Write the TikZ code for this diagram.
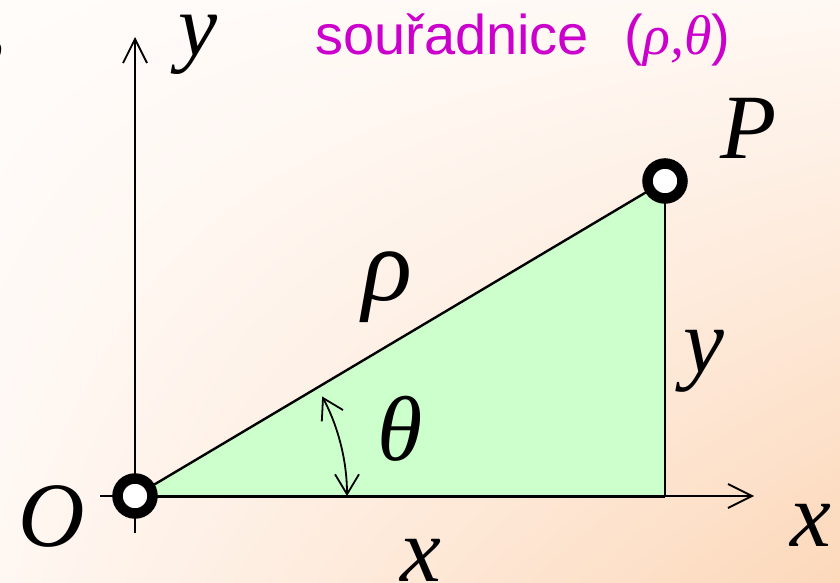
\documentclass[tikz,border=0pt]{standalone}
\usepackage{fontspec}
\setmainfont{Liberation Serif}
\newfontfamily\titlefont{Liberation Sans}
\newfontfamily\greekfont{Liberation Serif}
\usetikzlibrary{arrows.meta,shadings}
\definecolor{bgA}{HTML}{FFFCFA}
\definecolor{bgB}{HTML}{FFF8F3}
\definecolor{bgC}{HTML}{FFF7F2}
\definecolor{bgD}{HTML}{FCD8BA}
\definecolor{trifill}{HTML}{CCFFCC}
\definecolor{titlecol}{HTML}{CC00CC}
\tikzset{
  axis/.style={line width=1.8pt, -{Straight Barb[length=24pt,width=24pt,line width=1.8pt]}},
  edge/.style={line width=2.4pt},
  ring/.style={circle, draw=black, fill=white, line width=10.5pt, minimum size=35pt, inner sep=0pt},
  lab/.style={anchor=base west, inner sep=0pt, font=\itshape\fontsize{92}{92}\selectfont},
  anglearrow/.style={line width=1.8pt, {Straight Barb[length=20pt,width=24pt,line width=1.8pt]}-{Straight Barb[length=20pt,width=24pt,line width=1.8pt]}}
}
\begin{document}
\begin{tikzpicture}[x=1pt,y=-1pt]
\useasboundingbox (0,0) rectangle (840,583);
\shade[upper left=bgA, upper right=bgB, lower left=bgC, lower right=bgD] (0,0) rectangle (840,583);
% coordinates
\coordinate (O) at (135,496);
\coordinate (P) at (665,181);
\coordinate (F) at (665,496);
\coordinate (xs) at (100,496);
\coordinate (xe) at (754,496);
\coordinate (ys) at (135,533);
\coordinate (ye) at (135,37);
% triangle
\fill[trifill] (O) -- (P) -- (F) -- cycle;
% axes
\draw[axis] (xs) -- (xe);
\draw[axis] (ys) -- (ye);
% triangle edges
\draw[edge] (O) -- (P);
\draw[edge] (P) -- (F);
\draw[line width=3pt] (O) -- (F);
% angle arrow
\draw[anglearrow] (O) ++(-28:212) arc[start angle=-28, end angle=0, radius=212];
% points
\node[ring] (Onode) at (O) {};
\node[ring] (Pnode) at (P) {};
% labels
\node[lab, font=\itshape\fontsize{88}{88}\selectfont] (ylab) at (178,56) {y};
\node[lab] (plab) at (720,158) {P};
\node[lab, font=\itshape\fontsize{104}{104}\selectfont] (rholab) at (362,300) {ρ};
\node[lab] (thetalab) at (377,460) {θ};
\node[lab] (yside) at (683,372) {y};
\node[lab] (olab) at (18,546) {O};
\node[lab] (xlab) at (790,546) {x};
\node[lab] (xside) at (400,581) {x};
\node[anchor=base west, inner sep=0pt, font=\fontsize{92}{92}\selectfont] (comma) at (-16,52) {,};
\node[anchor=base west, inner sep=0pt, text=titlecol, font=\titlefont\fontsize{56}{56}\selectfont] (title) at (315,55) {souřadnice\hspace{20pt} (\greekfont\itshape ρ,θ\titlefont\upshape)};
\end{tikzpicture}
\end{document}
